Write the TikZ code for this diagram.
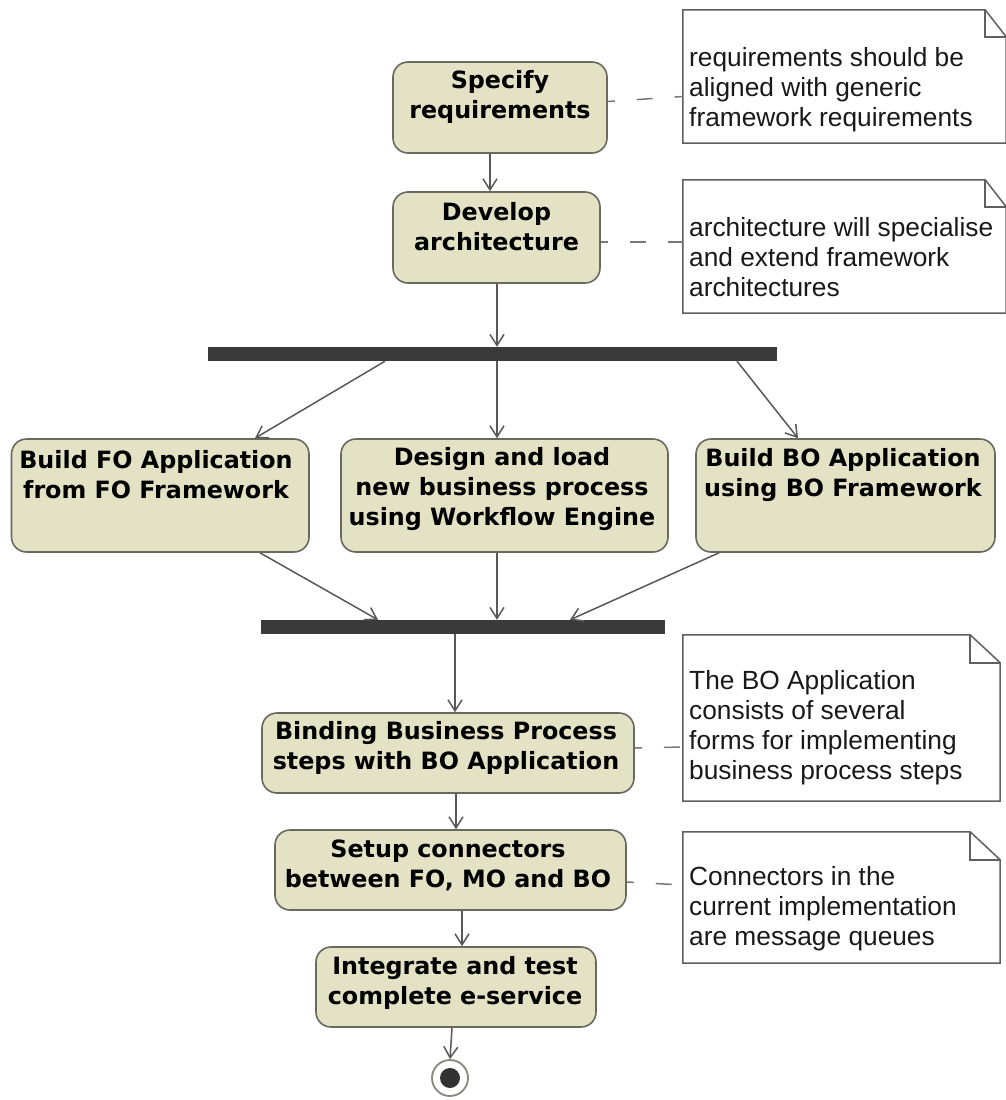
\documentclass[tikz,border=0pt]{standalone}
\usepackage{fontspec}
\setmainfont{Liberation Sans}
\newfontfamily\actfont{DejaVu Sans}
\usetikzlibrary{arrows.meta}

\definecolor{actfill}{RGB}{227,226,197}
\definecolor{actline}{RGB}{105,105,95}
\definecolor{flowline}{RGB}{88,88,88}
\definecolor{noteline}{RGB}{95,95,95}
\definecolor{barfill}{RGB}{58,58,58}
\definecolor{dotfill}{RGB}{50,50,50}

\tikzset{
  actbox/.style={draw=actline, line width=1.6pt, fill=actfill, rounded corners=15pt, inner sep=0pt},
  acttext/.style={font=\actfont\bfseries\fontsize{23.8}{30}\selectfont, align=center, inner sep=0pt, text=black},
  forkbar/.style={fill=barfill, draw=none, inner sep=0pt},
  notebox/.style={draw=none, fill=white, inner sep=0pt},
  notetext/.style={font=\fontsize{26.3}{30}\selectfont, align=left, anchor=west, inner sep=0pt, text=black!90},
  noteframe/.style={draw=noteline, line width=1.5pt, line join=miter},
  flow/.style={draw=flowline, line width=1.5pt, -{Straight Barb[length=11pt,width=14pt,line width=1.5pt]}},
  anchorline/.style={draw=noteline!85, line width=1.5pt, dash pattern=on 16pt off 22pt, dash phase=9pt},
}

\begin{document}
\begin{tikzpicture}[x=1pt,y=-1pt]
\useasboundingbox (0,0) rectangle (1005,1100);

% ---------- activities ----------
\node[actbox, minimum width=214pt, minimum height=91pt] (spec) at (500,107.5) {};
\node[acttext] (specT) at (500,97) {Specify\\requirements};

\node[actbox, minimum width=207pt, minimum height=91pt] (arch) at (496.5,237.5) {};
\node[acttext] (archT) at (496.5,227) {Develop\\architecture};

\node[forkbar, minimum width=569pt, minimum height=14pt] (fork) at (492.5,354) {};

\node[actbox, minimum width=297.5pt, minimum height=113pt] (fo) at (160.25,495.5) {};
\node[acttext] (foT) at (156,475) {Build FO Application\\from FO Framework};

\node[actbox, minimum width=327pt, minimum height=113pt] (wf) at (504.5,495.5) {};
\node[acttext] (wfT) at (502,489.5) {Design and load\\new business process\\using Workflow Engine};

\node[actbox, minimum width=299pt, minimum height=113pt] (bo) at (845.5,495.5) {};
\node[acttext] (boT) at (843,475) {Build BO Application\\using BO Framework};

\node[forkbar, minimum width=404pt, minimum height=14pt] (join) at (463,627) {};

\node[actbox, minimum width=372pt, minimum height=80pt] (bind) at (448,753) {};
\node[acttext] (bindT) at (446,748) {Binding Business Process\\steps with BO Application};

\node[actbox, minimum width=351pt, minimum height=80pt] (setup) at (450.5,870) {};
\node[acttext] (setupT) at (448,865) {Setup connectors\\between FO, MO and BO};

\node[actbox, minimum width=280pt, minimum height=80pt] (integ) at (456,987) {};
\node[acttext] (integT) at (455,983) {Integrate and test\\complete e-service};

% final node
\node[circle, draw=actline!80, line width=1.8pt, fill=white, minimum size=36pt, inner sep=0pt] (final) at (450,1078) {};
\node[circle, fill=dotfill, minimum size=20pt, inner sep=0pt] (finalDot) at (final.center) {};

% ---------- notes ----------
% note 1
\node[notebox, minimum width=323pt, minimum height=133pt] (n1) at (844.5,76.5) {};
\draw[noteframe] (n1.north west) -- ([xshift=-21pt]n1.north east) -- ([yshift=-27pt]n1.north east)
  -- (n1.south east) -- (n1.south west) -- cycle;
\draw[noteframe] ([xshift=-21pt]n1.north east) -- ([xshift=-21pt,yshift=-27pt]n1.north east) -- ([yshift=-27pt]n1.north east);
\node[notetext] (n1T) at (689,90) {requirements should be\\aligned with generic\\framework requirements};

% note 2
\node[notebox, minimum width=323pt, minimum height=133pt] (n2) at (844.5,246.5) {};
\draw[noteframe] (n2.north west) -- ([xshift=-21pt]n2.north east) -- ([yshift=-27pt]n2.north east)
  -- (n2.south east) -- (n2.south west) -- cycle;
\draw[noteframe] ([xshift=-21pt]n2.north east) -- ([xshift=-21pt,yshift=-27pt]n2.north east) -- ([yshift=-27pt]n2.north east);
\node[notetext] (n2T) at (689,257) {architecture will specialise\\and extend framework\\architectures};

% note 3
\node[notebox, minimum width=317pt, minimum height=166pt] (n3) at (841.5,718) {};
\draw[noteframe] (n3.north west) -- ([xshift=-30pt]n3.north east) -- ([yshift=-28pt]n3.north east)
  -- (n3.south east) -- (n3.south west) -- cycle;
\draw[noteframe] ([xshift=-30pt]n3.north east) -- ([xshift=-30pt,yshift=-28pt]n3.north east) -- ([yshift=-28pt]n3.north east);
\node[notetext] (n3T) at (689,728) {The BO Application\\consists of several\\forms for implementing\\business process steps};

% note 4
\node[notebox, minimum width=317pt, minimum height=131pt] (n4) at (841.5,897.5) {};
\draw[noteframe] (n4.north west) -- ([xshift=-30pt]n4.north east) -- ([yshift=-28pt]n4.north east)
  -- (n4.south east) -- (n4.south west) -- cycle;
\draw[noteframe] ([xshift=-30pt]n4.north east) -- ([xshift=-30pt,yshift=-28pt]n4.north east) -- ([yshift=-28pt]n4.north east);
\node[notetext] (n4T) at (689,909) {Connectors in the\\current implementation\\are message queues};

% ---------- note anchors ----------
\draw[anchorline] ([yshift=6pt]spec.east) -- ([yshift=-20pt]n1.west);
\draw[anchorline] ([yshift=-4.5pt]arch.east) -- ([yshift=4.5pt]n2.west);
\draw[anchorline] ([yshift=5pt]bind.east) -- ([yshift=-29pt]n3.west);
\draw[anchorline] ([yshift=-12pt]setup.east) -- ([yshift=12.5pt]n4.west);

% ---------- control flow ----------
\draw[flow] ([xshift=-10pt]spec.south) -- ([xshift=-6.5pt]arch.north);
\draw[flow] ([xshift=0.5pt]arch.south) -- ([xshift=4.5pt]fork.north);
\draw[flow] ([xshift=-107.5pt]fork.south) -- ([xshift=94.75pt]fo.north);
\draw[flow] ([xshift=4.5pt]fork.south) -- ([xshift=-7.5pt]wf.north);
\draw[flow] ([xshift=244.5pt]fork.south) -- ([xshift=-47.5pt]bo.north);
\draw[flow] ([xshift=99.75pt]fo.south) -- ([xshift=-85pt]join.north);
\draw[flow] ([xshift=-7.5pt]wf.south) -- ([xshift=34pt]join.north);
\draw[flow] ([xshift=-126.5pt]bo.south) -- ([xshift=107pt]join.north);
\draw[flow] ([xshift=-8pt]join.south) -- ([xshift=7pt]bind.north);
\draw[flow] ([xshift=8pt]bind.south) -- ([xshift=5.5pt]setup.north);
\draw[flow] ([xshift=11.5pt]setup.south) -- ([xshift=6pt]integ.north);
\draw[flow] ([xshift=-4pt]integ.south) -- (final.north);
\end{tikzpicture}
\end{document}
